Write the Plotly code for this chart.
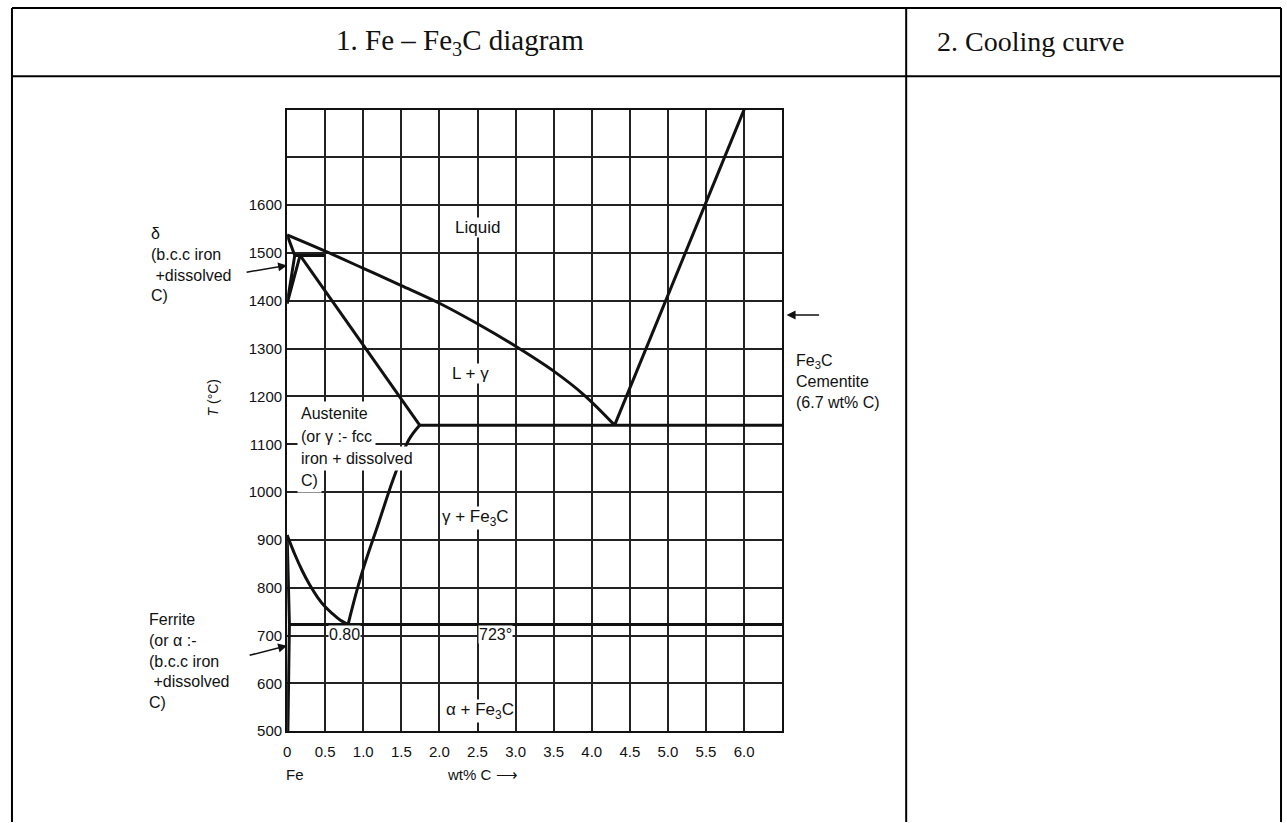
import plotly.graph_objects as go

W, H = 1287, 823

# ---------------- data ----------------
x_tick_vals = [0, 0.5, 1.0, 1.5, 2.0, 2.5, 3.0, 3.5, 4.0, 4.5, 5.0, 5.5, 6.0]
x_tick_text = ["0", "0.5", "1.0", "1.5", "2.0", "2.5", "3.0", "3.5", "4.0", "4.5", "5.0", "5.5", "6.0"]
y_tick_vals = [500, 600, 700, 800, 900, 1000, 1100, 1200, 1300, 1400, 1500, 1600, 1700, 1800]
y_tick_text = ["500", "600", "700", "800", "900", "1000", "1100", "1200", "1300", "1400", "1500", "1600", "", ""]

liquidus_c = [0, 0.5, 1.0, 1.5, 2.0, 2.5, 3.0, 3.5, 3.9, 4.3]
liquidus_t = [1538, 1504, 1468, 1432, 1395, 1352, 1305, 1253, 1203, 1140]
cem_liquidus_c = [4.3, 6.0]
cem_liquidus_t = [1140, 1800]
solidus_c = [0.17, 1.74]
solidus_t = [1495, 1140]
eutectic_c = [1.74, 6.5]
eutectic_t = [1140, 1140]
acm_c = [0.8, 0.9, 1.0, 1.2, 1.4, 1.6, 1.74]
acm_t = [723, 785, 840, 935, 1030, 1110, 1140]
a3_c = [0, 0.1, 0.2, 0.3, 0.4, 0.5, 0.6, 0.7, 0.8]
a3_t = [910, 870, 835, 805, 780, 760, 745, 732, 723]
eutectoid_c = [0.02, 6.5]
eutectoid_t = [723, 723]
ferrite_c = [0, 0.03, 0.01]
ferrite_t = [910, 723, 500]
delta_c = [0, 0.1, 0, 0.17]
delta_t = [1538, 1495, 1394, 1495]
peritectic_c = [0.1, 0.5]
peritectic_t = [1495, 1495]

boundaries = [
    (liquidus_c, liquidus_t, "spline"), (cem_liquidus_c, cem_liquidus_t, "linear"),
    (solidus_c, solidus_t, "linear"), (eutectic_c, eutectic_t, "linear"), (acm_c, acm_t, "spline"),
    (a3_c, a3_t, "spline"), (eutectoid_c, eutectoid_t, "linear"), (ferrite_c, ferrite_t, "linear"),
    (delta_c, delta_t, "linear"), (peritectic_c, peritectic_t, "linear"),
]

# ---------------- helpers (pixel -> paper) ----------------
def px(x):
    return x / W

def py(y):
    return 1 - y / H

fig = go.Figure()
for c, t, shape in boundaries:
    fig.add_trace(go.Scatter(x=c, y=t, mode="lines", line=dict(color="#111", width=3, shape=shape),
                             hoverinfo="skip", showlegend=False))

SANS = "Liberation Sans, Arial, sans-serif"
SERIF = "Liberation Serif, Times New Roman, serif"
GRID = "#222"
TXT = "#111"

fig.update_layout(
    width=W, height=H, margin=dict(l=0, r=0, t=0, b=0),
    paper_bgcolor="white", plot_bgcolor="white", showlegend=False,
    xaxis=dict(domain=[px(284), px(780.6)], range=[0, 6.5], tickvals=x_tick_vals, ticktext=x_tick_text,
               showgrid=True, gridcolor=GRID, gridwidth=1.6, zeroline=False,
               showline=True, linecolor="#111", linewidth=2, mirror=True, ticks="",
               ticklabelstandoff=6,
               tickfont=dict(family=SANS, size=15, color=TXT)),
    yaxis=dict(domain=[py(738.3), py(110.7)], range=[500, 1800], tickvals=y_tick_vals, ticktext=y_tick_text,
               showgrid=True, gridcolor=GRID, gridwidth=1.6, zeroline=False,
               showline=True, linecolor="#111", linewidth=2, mirror=True, ticks="",
               tickfont=dict(family=SANS, size=15, color=TXT)),
)

# table lines
shapes = []
line = dict(color="black", width=2)
for x0, y0, x1, y1 in [(8, 8, 1281, 8), (8, 77, 1281, 77), (8, 8, 8, 830), (1281, 8, 1281, 830),
                       (905, 8, 905, 830)]:
    shapes.append(dict(type="line", xref="paper", yref="paper", x0=px(x0), y0=py(y0), x1=px(x1), y1=py(y1),
                       line=line))
fig.update_layout(shapes=shapes)

ann = []

def text(x, y, s, size=17, xanchor="center", bg=None, family=SANS, align="center", pad=0):
    d = dict(x=px(x), y=py(y), xref="paper", yref="paper", text=s, showarrow=False,
             xanchor=xanchor, yanchor="middle", align=align,
             font=dict(family=family, size=size, color=TXT))
    if bg:
        d["bgcolor"] = bg
        d["borderpad"] = pad
    ann.append(d)
    return d

# header
text(457, 42, "1. Fe – Fe<sub>3</sub>C diagram", size=29, family=SERIF)
text(1030, 42, "2. Cooling curve", size=28, family=SERIF)

# region labels
text(475, 230, "Liquid", bg="white")
text(468, 377, "L + γ", bg="white")
text(473, 523, "γ + Fe<sub>3</sub>C", bg="white")
text(477, 718, "α + Fe<sub>3</sub>C", bg="white")
text(341.5, 641, "0.80", size=16, bg="white")
text(493, 641, "723°", size=16, bg="white")
for yy, s in [(418, "Austenite"), (441, "(or γ :- fcc"), (463, "iron + dissolved"), (485, "C)")]:
    text(294, yy, s, size=16, xanchor="left", bg="white", align="left", pad=3)

# left labels
ann.append(dict(x=px(145), y=py(267), xref="paper", yref="paper", showarrow=False,
                text="δ<br>(b.c.c iron<br> +dissolved<br>C)", xanchor="left", yanchor="middle", align="left",
                font=dict(family=SANS, size=16, color=TXT)))
ann.append(dict(x=px(143), y=py(667), xref="paper", yref="paper", showarrow=False,
                text="Ferrite<br>(or α :-<br>(b.c.c iron<br> +dissolved<br>C)", xanchor="left", yanchor="middle",
                align="left", font=dict(family=SANS, size=16, color=TXT)))

# right labels
ann.append(dict(x=px(792), y=py(385), xref="paper", yref="paper", showarrow=False,
                text="Fe<sub>3</sub>C<br>Cementite<br>(6.7 wt% C)", xanchor="left", yanchor="middle",
                align="left", font=dict(family=SANS, size=16, color=TXT)))

# axis titles
d = text(210, 401, "<i>T</i> (°C)", size=14)
d["textangle"] = -90
text(292, 782, "Fe", size=15)
text(480, 782, "wt% C ⟶", size=15)

# arrows
for hx, hy, tx, ty in [(284, 268, 242, 275), (284, 652, 245, 662), (785, 318, 819, 318)]:
    ann.append(dict(x=px(hx), y=py(hy), xref="paper", yref="paper", showarrow=True,
                    ax=tx - hx, ay=ty - hy, arrowhead=2, arrowsize=1.2, arrowwidth=1.5,
                    arrowcolor="#111", text=""))

fig.update_layout(annotations=ann)
fig.write_html("out.html")
